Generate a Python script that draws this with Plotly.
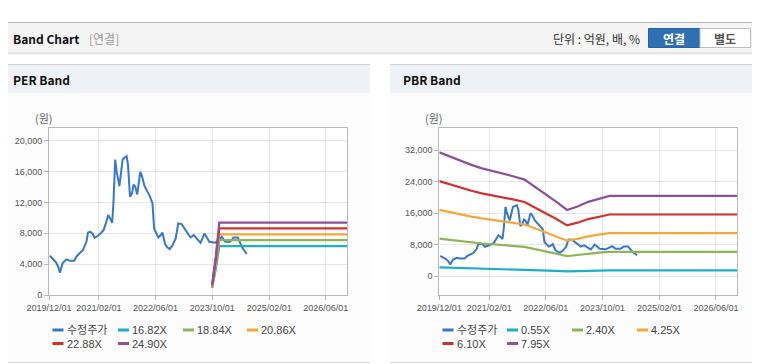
import plotly.graph_objects as go

# ---------------- data ----------------
price_dates = [
    "2019-12-09", "2020-01-07", "2020-01-30", "2020-02-18", "2020-03-04", "2020-03-26", "2020-04-29",
    "2020-05-28", "2020-07-04", "2020-07-29", "2020-08-29", "2020-09-18", "2020-10-17", "2020-10-31",
    "2020-11-20", "2020-12-07", "2020-12-26", "2021-01-24", "2021-02-21", "2021-03-13", "2021-03-30",
    "2021-04-22", "2021-05-09", "2021-05-26", "2021-06-06", "2021-06-21", "2021-07-04", "2021-07-27",
    "2021-08-11", "2021-08-24", "2021-09-10", "2021-09-27", "2021-10-09", "2021-10-26", "2021-11-12",
    "2021-11-26", "2021-12-10", "2021-12-27", "2022-01-22", "2022-02-05", "2022-02-28", "2022-03-25",
    "2022-04-17", "2022-05-07", "2022-05-21", "2022-06-10", "2022-06-27", "2022-07-17", "2022-07-31",
    "2022-08-23", "2022-09-11", "2022-10-02", "2022-10-24", "2022-11-22", "2022-12-14", "2023-01-12",
    "2023-01-31", "2023-03-01", "2023-03-29", "2023-04-27", "2023-05-25", "2023-06-23", "2023-07-27",
    "2023-08-18", "2023-09-07", "2023-10-28", "2023-11-25", "2023-12-23", "2024-01-21", "2024-03-04",
    "2024-04-01", "2024-05-08", "2024-06-11", "2024-07-04", "2024-07-23",
]
price_values = [
    5090, 4660, 4230, 3670, 2890, 4100, 4620,
    4450, 4450, 5090, 5480, 5830, 6900, 8110,
    8200, 7980, 7420, 7680, 8070, 8410, 9150,
    10360, 9930, 9360, 12000, 17560, 15960, 14110,
    15960, 17560, 17820, 17990, 16830, 12730, 13160,
    14330, 14030, 13030, 15960, 15450, 14110, 13370,
    12730, 11870, 8630, 7980, 7460, 7770, 8110,
    6600, 6170, 5950, 6390, 7340, 9280, 9190,
    8760, 7980, 7460, 7770, 7340, 6770, 7980,
    7340, 6900, 6770, 7210, 7550, 6900, 6900,
    7470, 7470, 6250, 5740, 5310,
]

per_band_dates = ["2023-10-01", "2023-11-01", "2023-12-01", "2026-12-01"]
per_names = ["16.82X", "18.84X", "20.86X", "22.88X", "24.90X"]
per_1682 = [925, 3364, 6341, 6341]
per_1884 = [1036, 3768, 7103, 7103]
per_2086 = [1147, 4172, 7864, 7864]
per_2288 = [1258, 4576, 8626, 8626]
per_2490 = [1370, 4980, 9387, 9387]

pbr_band_dates = [
    "2019-12-01", "2020-03-01", "2020-06-01", "2020-09-01", "2020-12-01", "2021-03-01",
    "2021-06-01", "2021-09-01", "2021-12-01", "2022-03-01", "2022-06-01", "2022-09-01",
    "2022-12-01", "2023-03-01", "2023-06-01", "2023-09-01", "2023-12-01", "2026-12-01",
]
pbr_names = ["0.55X", "2.40X", "4.25X", "6.10X", "7.95X"]
pbr_055 = [2173, 2096, 2024, 1953, 1892, 1848, 1793, 1749, 1694, 1568, 1430, 1304, 1161, 1221, 1304, 1359, 1408, 1408]
pbr_240 = [9480, 9144, 8832, 8520, 8256, 8064, 7824, 7632, 7392, 6840, 6240, 5688, 5064, 5328, 5688, 5928, 6144, 6144]
pbr_425 = [16788, 16193, 15640, 15088, 14620, 14280, 13855, 13515, 13090, 12113, 11050, 10073, 8968, 9435, 10073, 10498, 10880, 10880]
pbr_610 = [24095, 23241, 22448, 21655, 20984, 20496, 19886, 19398, 18788, 17385, 15860, 14457, 12871, 13542, 14457, 15067, 15616, 15616]
pbr_795 = [31403, 30290, 29256, 28223, 27348, 26712, 25917, 25281, 24486, 22658, 20670, 18842, 16775, 17649, 18842, 19637, 20352, 20352]

price_name = "수정주가"
x_tickvals = ["2019-12-01", "2021-02-01", "2022-06-01", "2023-10-01", "2025-02-01", "2026-06-01"]
x_ticktext = ["2019/12/01", "2021/02/01", "2022/06/01", "2023/10/01", "2025/02/01", "2026/06/01"]
per_yticks = [0, 4000, 8000, 12000, 16000, 20000]
pbr_yticks = [0, 8000, 16000, 24000, 32000]

# ---------------- styles ----------------
# the page body has an 8px default margin; the figure is sized to fill the rest of the window
OFF = 8
W, H = 760 - OFF, 364 - OFF
C_PRICE = "#3478cf"
BAND_COLORS = ["#1eaec6", "#8cb653", "#f4a83a", "#cf332e", "#8e4f9b"]
NUM_FONT = "Liberation Sans, Arial, Noto Sans CJK KR, sans-serif"
KR_FONT = "Noto Sans CJK KR, Liberation Sans, sans-serif"


def px(x):
    return (x - OFF) / W


def py(y):
    return 1 - (y - OFF) / H


fig = go.Figure()

# PER chart
fig.add_trace(go.Scatter(x=price_dates, y=price_values, mode="lines", name=price_name,
                         line=dict(color=C_PRICE, width=2), xaxis="x", yaxis="y", showlegend=False))
for nm, vals, col in zip(per_names, [per_1682, per_1884, per_2086, per_2288, per_2490], BAND_COLORS):
    fig.add_trace(go.Scatter(x=per_band_dates, y=vals, mode="lines", name=nm,
                             line=dict(color=col, width=2.2), xaxis="x", yaxis="y", showlegend=False))

# PBR chart
fig.add_trace(go.Scatter(x=price_dates, y=price_values, mode="lines", name=price_name,
                         line=dict(color=C_PRICE, width=2), xaxis="x2", yaxis="y2", showlegend=False))
for nm, vals, col in zip(pbr_names, [pbr_055, pbr_240, pbr_425, pbr_610, pbr_795], BAND_COLORS):
    fig.add_trace(go.Scatter(x=pbr_band_dates, y=vals, mode="lines", name=nm,
                             line=dict(color=col, width=2.2), xaxis="x2", yaxis="y2", showlegend=False))

axis_common = dict(showgrid=True, gridcolor="#e6e6e6", gridwidth=1, showline=True, linecolor="#b8b8b8",
                   linewidth=1, mirror=True, ticks="outside", ticklen=4, tickcolor="#b8b8b8",
                   zeroline=False, automargin=False,
                   tickfont=dict(family=NUM_FONT, size=9, color="#555"))

ydom = [py(295), py(128)]
fig.update_layout(
    xaxis=dict(domain=[px(49), px(347)], type="date", range=["2019-12-01", "2026-12-01"],
               tickvals=x_tickvals, ticktext=x_ticktext, anchor="y", **axis_common),
    yaxis=dict(domain=ydom, range=[0, 21650], tickvals=per_yticks, tickformat=",", anchor="x",
               **axis_common),
    xaxis2=dict(domain=[px(439.3), px(737.3)], type="date", range=["2019-12-01", "2026-12-01"],
                tickvals=x_tickvals, ticktext=x_ticktext, anchor="y2", **axis_common),
    yaxis2=dict(domain=ydom, range=[-4825, 37590], tickvals=pbr_yticks, tickformat=",", anchor="x2",
                **axis_common),
)

shapes = []
annotations = []

# header bar
shapes.append(dict(type="rect", xref="paper", yref="paper", x0=px(0), x1=px(760), y0=py(52.5), y1=py(22.5),
                   fillcolor="#f4f4f4", line=dict(width=0), layer="below"))
shapes.append(dict(type="line", xref="paper", yref="paper", x0=px(0), x1=px(760), y0=py(22.5), y1=py(22.5),
                   line=dict(color="#b4b4b4", width=1), layer="below"))
shapes.append(dict(type="line", xref="paper", yref="paper", x0=px(0), x1=px(760), y0=py(53), y1=py(53),
                   line=dict(color="#cfcfcf", width=1), layer="below"))
shapes.append(dict(type="line", xref="paper", yref="paper", x0=px(0), x1=px(760), y0=py(54), y1=py(54),
                   line=dict(color="#e9e9e9", width=1), layer="below"))
annotations.append(dict(text="<b>Band Chart</b>", x=px(11), y=py(38.5), xref="paper", yref="paper",
                        xanchor="left", yanchor="middle", showarrow=False,
                        font=dict(family=KR_FONT, size=12, color="#111")))
annotations.append(dict(text="[연결]", x=px(87), y=py(38.5), xref="paper", yref="paper",
                        xanchor="left", yanchor="middle", showarrow=False,
                        font=dict(family=KR_FONT, size=12, color="#999")))
annotations.append(dict(text="단위 : 억원, 배, %", x=px(642), y=py(38.5), xref="paper", yref="paper",
                        xanchor="right", yanchor="middle", showarrow=False,
                        font=dict(family=KR_FONT, size=12, color="#333")))
# buttons
shapes.append(dict(type="rect", xref="paper", yref="paper", x0=px(648.5), x1=px(700), y0=py(47.5), y1=py(28.5),
                   fillcolor="#2f6fb4", line=dict(color="#2a62a0", width=1), layer="below"))
shapes.append(dict(type="rect", xref="paper", yref="paper", x0=px(700), x1=px(750.5), y0=py(47.5), y1=py(28.5),
                   fillcolor="#ffffff", line=dict(color="#bdbdbd", width=1), layer="below"))
annotations.append(dict(text="<b>연결</b>", x=px(674), y=py(38.5), xref="paper", yref="paper",
                        xanchor="center", yanchor="middle", showarrow=False,
                        font=dict(family=KR_FONT, size=12, color="#ffffff")))
annotations.append(dict(text="<b>별도</b>", x=px(725), y=py(38.5), xref="paper", yref="paper",
                        xanchor="center", yanchor="middle", showarrow=False,
                        font=dict(family=KR_FONT, size=12, color="#555")))

# panels
for (x0, x1, title, tx) in [(0, 370, "PER Band", 11), (390, 760, "PBR Band", 401)]:
    shapes.append(dict(type="rect", xref="paper", yref="paper", x0=px(x0), x1=px(x1), y0=py(362), y1=py(93),
                       fillcolor="#fcfcfc", line=dict(width=0), layer="below"))
    shapes.append(dict(type="rect", xref="paper", yref="paper", x0=px(x0), x1=px(x1), y0=py(93), y1=py(64.5),
                       fillcolor="#eef1f6", line=dict(width=0), layer="below"))
    shapes.append(dict(type="line", xref="paper", yref="paper", x0=px(x0), x1=px(x1), y0=py(64.5), y1=py(64.5),
                       line=dict(color="#d2d2d2", width=1), layer="below"))
    shapes.append(dict(type="line", xref="paper", yref="paper", x0=px(x0), x1=px(x1), y0=py(362.5), y1=py(362.5),
                       line=dict(color="#d8d8d8", width=1), layer="below"))
    annotations.append(dict(text="<b>%s</b>" % title, x=px(tx), y=py(79.5), xref="paper", yref="paper",
                            xanchor="left", yanchor="middle", showarrow=False,
                            font=dict(family=KR_FONT, size=12, color="#111")))

# plot area white backgrounds (above panel fill)
for (x0, x1) in [(49, 347), (439.3, 737.3)]:
    shapes.append(dict(type="rect", xref="paper", yref="paper", x0=px(x0), x1=px(x1), y0=py(295), y1=py(128),
                       fillcolor="#ffffff", line=dict(width=0), layer="below"))

# unit labels
for cx in [44, 434]:
    annotations.append(dict(text="(원)", x=px(cx), y=py(118), xref="paper", yref="paper",
                            xanchor="center", yanchor="middle", showarrow=False,
                            font=dict(family=KR_FONT, size=11, color="#666")))


# custom legends
def add_legend(xs, names, colors):
    rows = [330, 343.5]
    for i, (nm, col) in enumerate(zip(names, colors)):
        r = i // 4
        c = i % 4
        x0 = xs[c]
        y = rows[r]
        shapes.append(dict(type="line", xref="paper", yref="paper", x0=px(x0), x1=px(x0 + 11),
                           y0=py(y), y1=py(y), line=dict(color=col, width=3)))
        annotations.append(dict(text=nm, x=px(x0 + 12), y=py(y), xref="paper", yref="paper",
                                xanchor="left", yanchor="middle", showarrow=False,
                                font=dict(family=NUM_FONT, size=11, color="#444")))


add_legend([52.5, 118, 183, 247], [price_name] + per_names, [C_PRICE] + BAND_COLORS)
add_legend([442.5, 507, 572, 637], [price_name] + pbr_names, [C_PRICE] + BAND_COLORS)

fig.update_layout(
    width=W, height=H, margin=dict(l=0, r=0, t=0, b=0, pad=0, autoexpand=False),
    paper_bgcolor="#ffffff", plot_bgcolor="#ffffff",
    shapes=shapes, annotations=annotations, showlegend=False,
)

fig.write_html("out.html")
